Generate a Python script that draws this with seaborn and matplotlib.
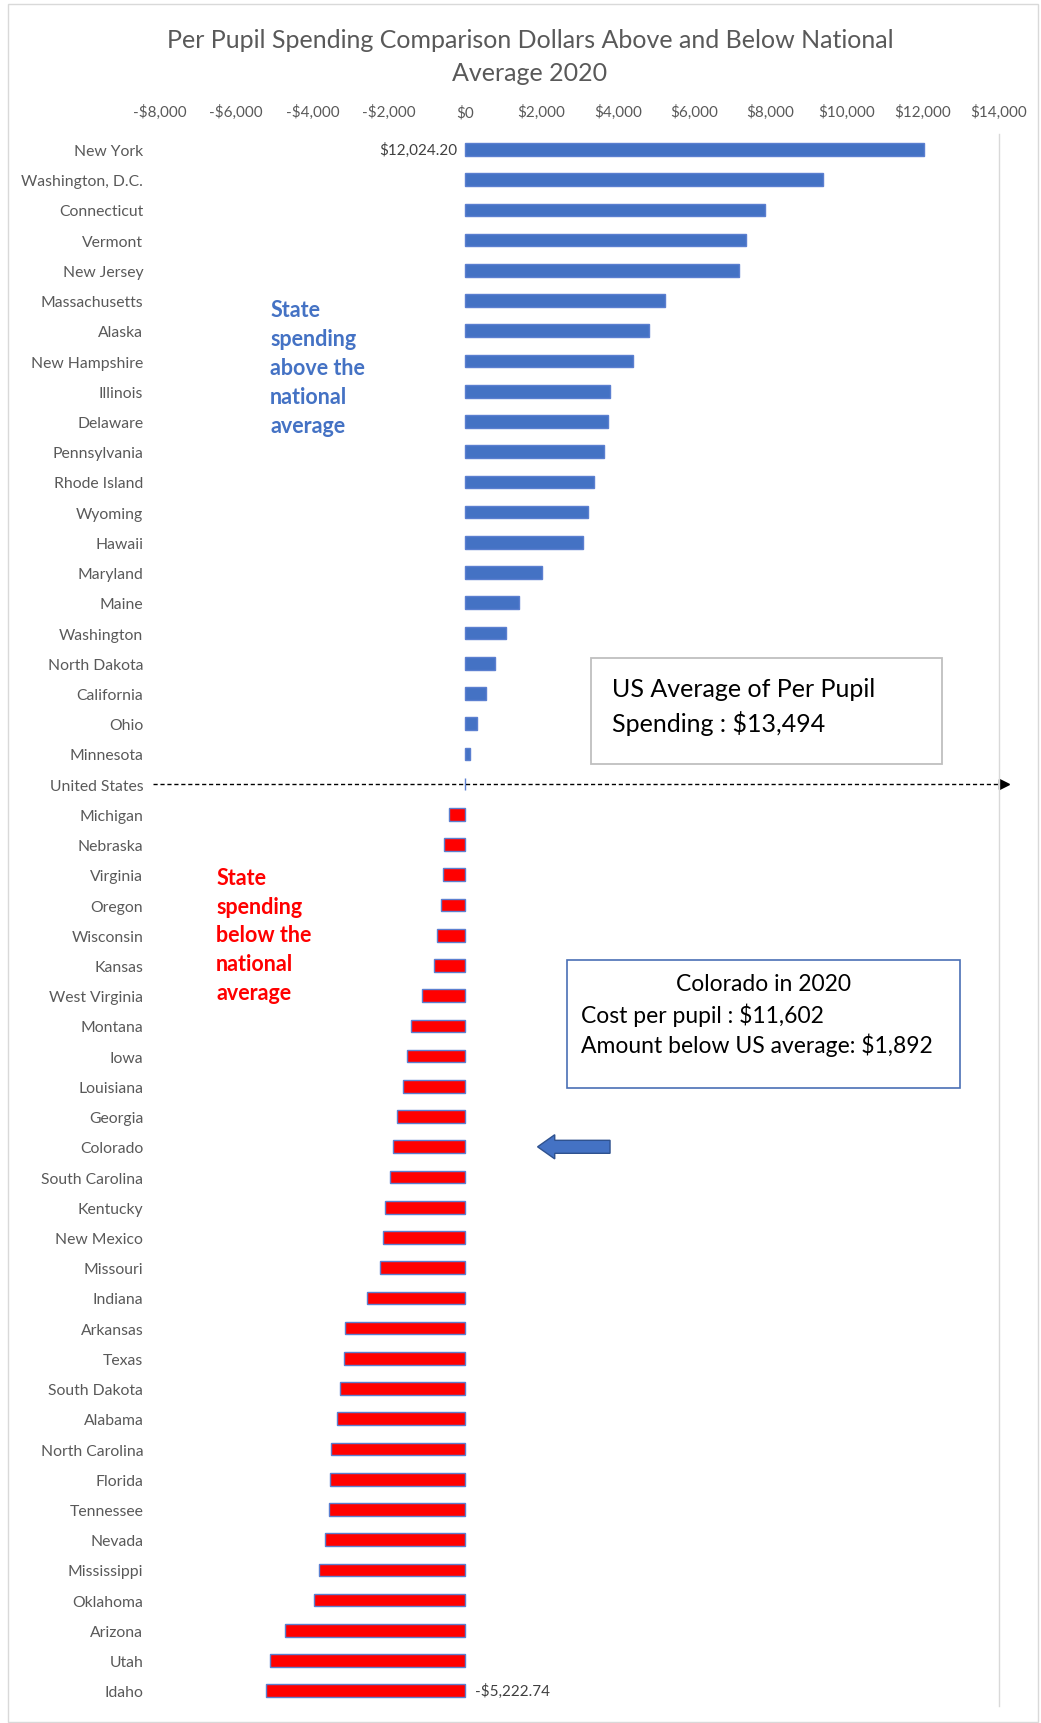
import pandas as pd
import numpy as np
import matplotlib.pyplot as plt
import matplotlib.transforms as mtransforms
from matplotlib.patches import Rectangle
from matplotlib.ticker import FuncFormatter
import seaborn as sns

sns.set_style("white")
plt.rcParams['font.family'] = ['Lato', 'DejaVu Sans']

# --- data: dollars above / below the national average (2020) ---
states = ["New York", "Washington, D.C.", "Connecticut", "Vermont", "New Jersey",
          "Massachusetts", "Alaska", "New Hampshire", "Illinois", "Delaware",
          "Pennsylvania", "Rhode Island", "Wyoming", "Hawaii", "Maryland", "Maine",
          "Washington", "North Dakota", "California", "Ohio", "Minnesota",
          "United States",
          "Michigan", "Nebraska", "Virginia", "Oregon", "Wisconsin", "Kansas",
          "West Virginia", "Montana", "Iowa", "Louisiana", "Georgia", "Colorado",
          "South Carolina", "Kentucky", "New Mexico", "Missouri", "Indiana",
          "Arkansas", "Texas", "South Dakota", "Alabama", "North Carolina",
          "Florida", "Tennessee", "Nevada", "Mississippi", "Oklahoma", "Arizona",
          "Utah", "Idaho"]
diff = [12024.20, 9380, 7860, 7370, 7190,
        5240, 4810, 4400, 3800, 3740,
        3650, 3370, 3220, 3080, 2010, 1410,
        1060, 780, 550, 320, 120,
        0,
        -430, -550, -580, -630, -750, -810,
        -1120, -1410, -1530, -1640, -1780, -1892,
        -1960, -2100, -2160, -2240, -2560,
        -3140, -3170, -3280, -3370, -3510,
        -3540, -3570, -3680, -3830, -3970, -4720,
        -5120, -5222.74]

us_average = 13494
colorado_cost = 11602

df = pd.DataFrame({"State": states, "Diff": diff})
df["Group"] = np.where(df["Diff"] >= 0, "above", "below")

blue = "#4472C4"
red = "#FF0000"
grey = "#595959"

fig = plt.figure(figsize=(10.41, 17.24), dpi=100)
ax = fig.add_axes([0.1537, 0.0099, 0.806, 0.9116])

sns.barplot(data=df, y="State", x="Diff", hue="Group", orient="h",
            palette={"above": blue, "below": red}, dodge=False, legend=False,
            saturation=1, width=0.42, edgecolor="#5B7FD0", linewidth=1, ax=ax)

ax.set_xlim(-8000, 14000)
ax.set_ylim(len(states) - 0.5, -0.5)
ax.xaxis.tick_top()
ax.set_xticks(np.arange(-8000, 14001, 2000))
ax.xaxis.set_major_formatter(FuncFormatter(
    lambda v, p: f"-${abs(v):,.0f}" if v < 0 else f"${v:,.0f}"))
ax.tick_params(axis="x", length=0, pad=11, labelsize=11, colors=grey)
ax.tick_params(axis="y", length=0, pad=12, labelsize=11.3, colors=grey)
ax.set_xlabel("")
ax.set_ylabel("")
for s in ["top", "left", "bottom"]:
    ax.spines[s].set_visible(False)
ax.spines["right"].set_color("#D9D9D9")
ax.spines["right"].set_linewidth(1)

# data labels for the extremes
ax.text(-200, 0, f"${diff[0]:,.2f}", ha="right", va="center", fontsize=11, color="#404040")
ax.text(250, len(states) - 1, f"-${abs(diff[-1]):,.2f}", ha="left", va="center",
        fontsize=11, color="#404040")

# national average dashed arrow
us_row = states.index("United States")
trans = mtransforms.blended_transform_factory(ax.transAxes, ax.transData)
ax.plot([-0.008, 1.003], [us_row, us_row], transform=trans, color="black",
        lw=1, ls=(0, (3, 2)), clip_on=False)
ax.plot([1.006], [us_row], transform=trans, marker=">", color="black",
        markersize=7, clip_on=False)

# arrow pointing at Colorado
co_row = states.index("Colorado")
ax.arrow(3800, co_row, -1900, 0, width=0.43, head_width=0.8, head_length=450,
         length_includes_head=True, fc=blue, ec="#2F528F", lw=1)

# title
fig.text(0.509, 0.967, "Per Pupil Spending Comparison Dollars Above and Below National\nAverage 2020",
         ha="center", va="center", fontsize=18, color=grey, linespacing=1.55)

# side notes
fig.text(0.2594, 0.7863, "State\nspending\nabove the\nnational\naverage", ha="left", va="center",
         fontsize=15.5, fontweight="bold", color=blue, linespacing=1.46)
fig.text(0.2077, 0.4571, "State\nspending\nbelow the\nnational\naverage", ha="left", va="center",
         fontsize=15.5, fontweight="bold", color=red, linespacing=1.46)

# text boxes
fig.add_artist(Rectangle((0.5677, 0.5563), 0.3372, 0.0615, transform=fig.transFigure,
                         fill=False, ec="#BFBFBF", lw=1.3))
fig.text(0.588, 0.5899, f"US Average of Per Pupil\nSpending : ${us_average:,}",
         ha="left", va="center", fontsize=18, color="black", linespacing=1.5)

fig.add_artist(Rectangle((0.5447, 0.3683), 0.3775, 0.0742, transform=fig.transFigure,
                         fill=False, ec="#4A6FB5", lw=1.2))
fig.text(0.733, 0.4292, "Colorado in 2020", ha="center", va="center", fontsize=16.5, color="black")
fig.text(0.558, 0.4113, f"Cost per pupil : ${colorado_cost:,}", ha="left", va="center",
         fontsize=16.5, color="black")
fig.text(0.558, 0.3939, f"Amount below US average: ${us_average - colorado_cost:,}", ha="left",
         va="center", fontsize=16.5, color="black")

# chart border
fig.add_artist(Rectangle((0.008, 0.0006), 0.989, 0.9965, transform=fig.transFigure,
                         fill=False, ec="#D9D9D9", lw=1))

fig.savefig("out.png", dpi=100)
